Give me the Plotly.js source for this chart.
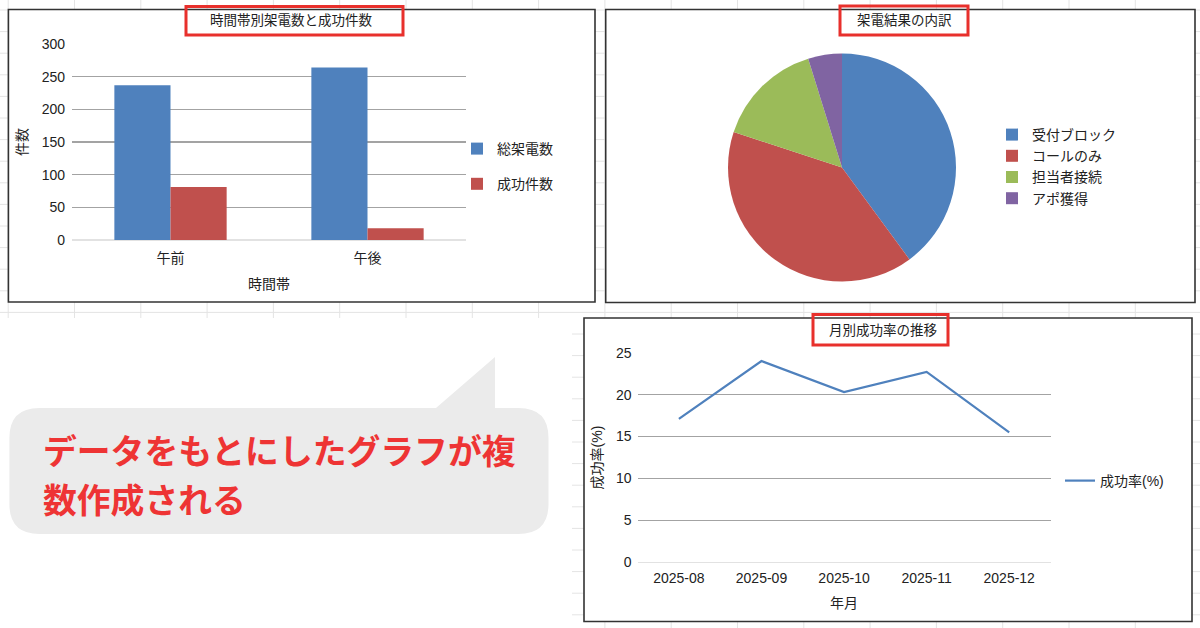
<!DOCTYPE html>
<html>
<head>
<meta charset="utf-8">
<script src="https://cdn.plot.ly/plotly-3.0.1.min.js"></script>
<style>
  html, body { margin: 0; padding: 0; background: #fff; }
  #chart { width: 1200px; height: 628px; }
</style>
</head>
<body>
<div id="chart"></div>
<script>
// data
const timeSlots = ['午前', '午後'];
const totalCalls = [237, 264];
const successCalls = [81, 18];

const resultLabels = ['受付ブロック', 'コールのみ', '担当者接続', 'アポ獲得'];
const resultCounts = [200, 201, 76, 24];

const months = ['2025-08', '2025-09', '2025-10', '2025-11', '2025-12'];
const successRate = [17.1, 24.0, 20.3, 22.7, 15.5];

const W = 1200, H = 628;
const FONT = 'Liberation Sans, "Noto Sans CJK JP", sans-serif';
const TEXT = '#222';

// pixel -> paper helpers
const X = px => px / W;
const Y = py => 1 - py / H;
const P = (x, y) => X(x).toFixed(5) + ',' + Y(y).toFixed(5);

function box(x0, y0, x1, y1, fill, color, width, layer) {
    return {
        type: 'rect', xref: 'paper', yref: 'paper',
        x0: X(x0), x1: X(x1), y0: Y(y1), y1: Y(y0),
        fillcolor: fill, line: { color: color, width: width }, layer: layer
    };
}

const shapes = [];

// faint spreadsheet grid behind everything
for (let gx = 8.2; gx < W; gx += 66.3) {
    shapes.push({ type: 'line', xref: 'paper', yref: 'paper', x0: X(gx), x1: X(gx), y0: 0, y1: 1,
        line: { color: '#e4e4e4', width: 1 }, layer: 'below' });
}
for (let gy = 10; gy < H; gy += 21.6) {
    shapes.push({ type: 'line', xref: 'paper', yref: 'paper', x0: 0, x1: 1, y0: Y(gy), y1: Y(gy),
        line: { color: '#e4e4e4', width: 1 }, layer: 'below' });
}
// blank area under the callout
shapes.push(box(0, 318, 572, 628, '#fff', 'rgba(0,0,0,0)', 0, 'below'));

// callout bubble
const bubble = 'M' + P(39.4, 408) + 'L' + P(436, 408) + 'L' + P(495, 357) + 'L' + P(495, 408) +
    'L' + P(518.5, 408) + 'Q' + P(548.5, 408) + ' ' + P(548.5, 438) +
    'L' + P(548.5, 504) + 'Q' + P(548.5, 534) + ' ' + P(518.5, 534) +
    'L' + P(39.4, 534) + 'Q' + P(9.4, 534) + ' ' + P(9.4, 504) +
    'L' + P(9.4, 438) + 'Q' + P(9.4, 408) + ' ' + P(39.4, 408) + 'Z';
shapes.push({ type: 'path', xref: 'paper', yref: 'paper', path: bubble,
    fillcolor: '#ebebeb', line: { width: 0 }, layer: 'below' });

// chart frames
shapes.push(box(8.4, 9.5, 595, 302, '#fff', '#333', 1.6, 'below'));
shapes.push(box(605.7, 9.5, 1195, 302.5, '#fff', '#333', 1.6, 'below'));
shapes.push(box(584, 318, 1192, 621.5, '#fff', '#333', 1.6, 'below'));

// red highlight boxes round the titles
shapes.push(box(186, 6.5, 403, 35, 'rgba(0,0,0,0)', '#e8302c', 3, 'above'));
shapes.push(box(840, 6, 968, 35, 'rgba(0,0,0,0)', '#e8302c', 3, 'above'));
shapes.push(box(813, 314.5, 948, 345, 'rgba(0,0,0,0)', '#e8302c', 3, 'above'));

const annotations = [
    { text: '時間帯別架電数と成功件数', x: X(291), y: Y(20.7) },
    { text: '架電結果の内訳', x: X(904), y: Y(20.7) },
    { text: '月別成功率の推移', x: X(883), y: Y(330) }
].map(a => Object.assign({
    xref: 'paper', yref: 'paper', showarrow: false, xanchor: 'center', yanchor: 'middle',
    font: { family: FONT, size: 13.5, color: TEXT }
}, a));

['データをもとにしたグラフが複', '数作成される'].forEach((line, i) => {
    annotations.push({
        text: line, xref: 'paper', yref: 'paper', x: X(41), y: Y(450 + i * 48),
        xanchor: 'left', yanchor: 'middle', showarrow: false,
        font: { family: '"Noto Sans CJK JP", sans-serif', size: 33.8, weight: 700, color: '#ee3434' }
    });
});

const traces = [
    {
        type: 'bar', name: '総架電数', x: timeSlots, y: totalCalls,
        marker: { color: '#4f81bd' }, legend: 'legend', legendgroup: 'a',
        xaxis: 'x', yaxis: 'y', hoverinfo: 'skip'
    },
    {
        type: 'bar', name: '成功件数', x: timeSlots, y: successCalls,
        marker: { color: '#c0504d' }, legend: 'legend', legendgroup: 'b',
        xaxis: 'x', yaxis: 'y', hoverinfo: 'skip'
    },
    {
        type: 'pie', labels: resultLabels, values: resultCounts,
        sort: false, direction: 'clockwise', rotation: 0,
        textinfo: 'none', hoverinfo: 'skip',
        marker: { colors: ['#4f81bd', '#c0504d', '#9bbb59', '#8064a2'], line: { width: 0 } },
        domain: { x: [X(728), X(956)], y: [Y(281.5), Y(53.5)] },
        legend: 'legend2'
    },
    {
        type: 'scatter', mode: 'lines', name: '成功率(%)', x: months, y: successRate,
        line: { color: '#4f81bd', width: 2.2 }, legend: 'legend3',
        xaxis: 'x2', yaxis: 'y2', hoverinfo: 'skip'
    }
];

const tickFont = { family: FONT, size: 14, color: TEXT };
const legendFont = { family: FONT, size: 14, color: TEXT };

const layout = {
    width: W, height: H,
    margin: { l: 0, r: 0, t: 0, b: 0 },
    paper_bgcolor: '#fff',
    plot_bgcolor: 'rgba(0,0,0,0)',
    font: { family: FONT, color: TEXT },
    barmode: 'group', bargap: 0.43, bargroupgap: 0,
    xaxis: {
        domain: [X(72), X(466)], anchor: 'y', type: 'category',
        showline: false, showgrid: false, ticks: '', ticklabelstandoff: 8,
        tickfont: tickFont,
        title: { text: '時間帯', font: { family: FONT, size: 14, color: TEXT }, standoff: 14 }
    },
    yaxis: {
        domain: [Y(240), Y(44)], anchor: 'x', range: [0, 300], dtick: 50,
        showline: false, ticks: '', ticklabelstandoff: 6,
        gridcolor: '#a3a3a3', gridwidth: 1.5,
        zeroline: true, zerolinecolor: '#e2e2e2', zerolinewidth: 1.5,
        tickfont: tickFont,
        title: { text: '件数', font: { family: FONT, size: 14, color: TEXT }, standoff: 10 }
    },
    xaxis2: {
        domain: [X(637.6), X(1050.5)], anchor: 'y2', type: 'category',
        range: [-0.5, months.length - 0.5],
        showline: false, showgrid: false, ticks: '', ticklabelstandoff: 6,
        tickfont: tickFont,
        title: { text: '年月', font: { family: FONT, size: 14, color: TEXT }, standoff: 12 }
    },
    yaxis2: {
        domain: [Y(562.3), Y(352.7)], anchor: 'x2', range: [0, 25], dtick: 5,
        showline: false, ticks: '', ticklabelstandoff: 5,
        gridcolor: '#a3a3a3', gridwidth: 1.5,
        zeroline: true, zerolinecolor: '#e2e2e2', zerolinewidth: 1.5,
        tickfont: tickFont,
        title: { text: '成功率(%)', font: { family: FONT, size: 14, color: TEXT }, standoff: 10 }
    },
    legend: {
        x: X(457), y: Y(166.5), xanchor: 'left', yanchor: 'middle',
        traceorder: 'grouped', tracegroupgap: 14,
        font: legendFont, bgcolor: 'rgba(0,0,0,0)'
    },
    legend2: {
        x: X(992), y: Y(166.5), xanchor: 'left', yanchor: 'middle',
        font: legendFont, bgcolor: 'rgba(0,0,0,0)'
    },
    legend3: {
        x: X(1060), y: Y(481), xanchor: 'left', yanchor: 'middle',
        font: legendFont, bgcolor: 'rgba(0,0,0,0)'
    },
    shapes: shapes,
    annotations: annotations
};

Plotly.newPlot('chart', traces, layout, { displayModeBar: false, staticPlot: true });
</script>
</body>
</html>
